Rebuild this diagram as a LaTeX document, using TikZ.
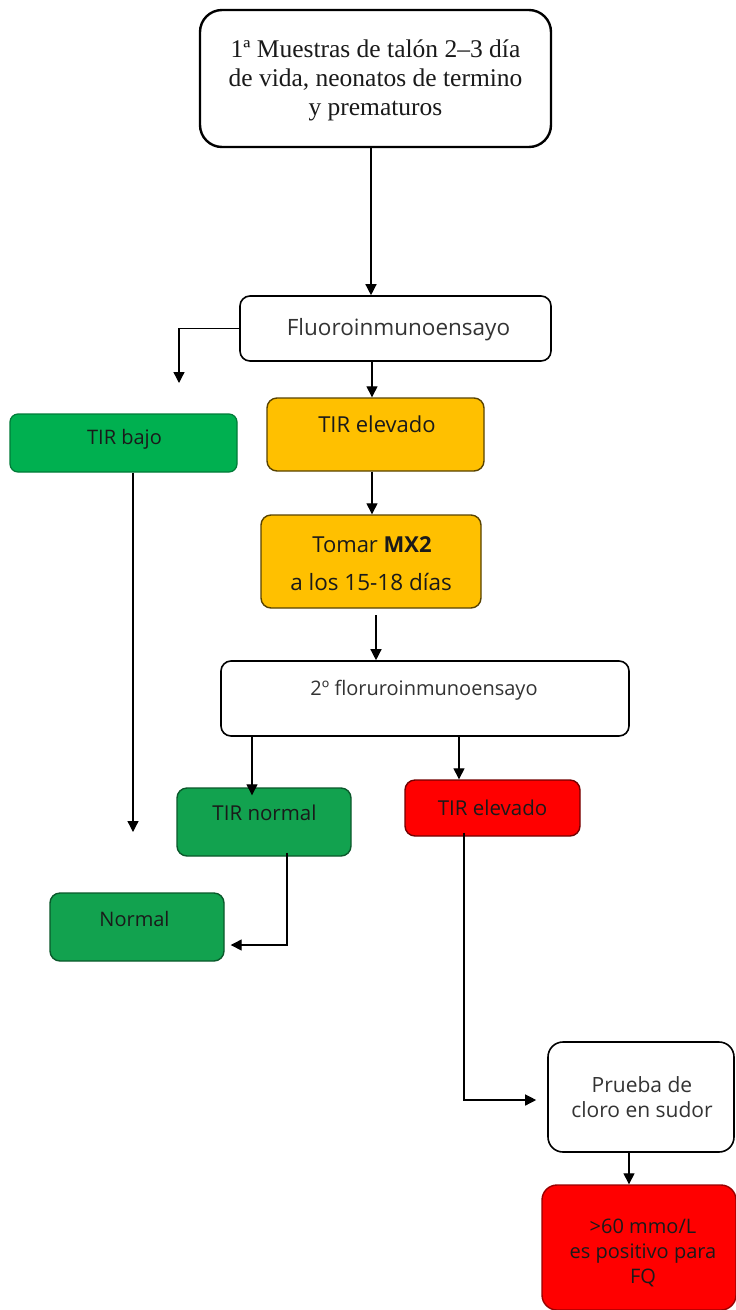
\documentclass[tikz,border=0pt]{standalone}
\usepackage{fontspec}
\setmainfont{Liberation Serif}
\newfontfamily\boxsans{Open Sans}
\usetikzlibrary{arrows.meta}
\definecolor{okgreen}{HTML}{00B050}
\definecolor{okgreendk}{HTML}{12A24F}
\definecolor{warnorange}{HTML}{FFC000}
\definecolor{alertred}{HTML}{FF0000}
\definecolor{inkdark}{HTML}{1A1A1A}
\definecolor{inkgray}{HTML}{333333}
\begin{document}
\begin{tikzpicture}[x=1pt,y=-1pt,
  box/.style={rectangle,rounded corners=10pt,line width=1.6pt,draw=black,inner sep=0pt},
  whitebox/.style={box,fill=white},
  greenbox/.style={box,fill=okgreen,draw=okgreen!70!black,line width=1.2pt},
  greenboxdk/.style={box,fill=okgreendk,draw=okgreendk!55!black,line width=1.4pt},
  orangebox/.style={box,fill=warnorange,draw=warnorange!35!black,line width=1.4pt},
  redbox/.style={box,fill=alertred,draw=alertred!45!black,line width=1.4pt},
  lbl/.style={text=inkdark,align=center,inner sep=0pt},
  sz/.style={font=\boxsans\fontsize{#1}{25}\selectfont},
  conn/.style={line width=1.3pt,-{Triangle[length=11pt,width=11pt]}},
  plain/.style={line width=1.3pt}]
\useasboundingbox (0,0) rectangle (736,1310);
\fill[white] (0,0) rectangle (736,1310);

% boxes and their labels
\node[whitebox,line width=2.4pt,rounded corners=22pt,minimum width=351pt,minimum height=137pt] (start) at (375.5,78.5) {};
\node[font=\fontsize{25.5}{29}\selectfont,align=center,text=inkdark] (starttxt) at (375.5,80)
  {1ª Muestras de talón 2–3 día\\de vida, neonatos de termino\\y prematuros};

\node[whitebox,minimum width=311pt,minimum height=65pt] (fluo) at (395.5,328.5) {};
\node[lbl,sz=22.5,text=inkgray] (fluotxt) at (398.5,330) {Fluoroinmunoensayo};

\node[greenbox,rounded corners=8pt,minimum width=227pt,minimum height=58pt] (bajo) at (123.5,443) {};
\node[lbl,sz=20] (bajotxt) at (124.5,439) {TIR bajo};

\node[orangebox,minimum width=217pt,minimum height=73pt] (elev) at (375.5,434.5) {};
\node[lbl,sz=22] (elevtxt) at (377,424) {TIR elevado};

\node[orangebox,minimum width=220pt,minimum height=93pt] (mx2) at (371,561.5) {};
\node[lbl,sz=22] (mx2a) at (372,545) {Tomar \textbf{MX2}};
\node[lbl,sz=22.5] (mx2b) at (371,582) {a los 15-18 días};

\node[whitebox,minimum width=408pt,minimum height=75pt] (second) at (425,698.5) {};
\node[lbl,sz=20,text=inkgray] (secondtxt) at (424,690) {2º floruroinmunoensayo};

\node[greenboxdk,minimum width=174pt,minimum height=68pt] (tnorm) at (264,822) {};
\node[lbl,sz=20.5] (tnormtxt) at (264.5,813) {TIR normal};

\node[redbox,minimum width=175pt,minimum height=56pt] (tred) at (492.5,808) {};
\node[lbl,sz=20.5] (tredtxt) at (492.5,808) {TIR elevado};

\node[greenboxdk,minimum width=174pt,minimum height=68pt] (norm) at (137,927) {};
\node[lbl,sz=20] (normtxt) at (134.5,919) {Normal};

\node[whitebox,rounded corners=15pt,minimum width=186pt,minimum height=110pt] (sweat) at (641,1097) {};
\node[lbl,sz=21,text=inkgray] (sweattxt) at (642,1097) {Prueba de\\cloro en sudor};

\node[redbox,draw=alertred!60!black,rounded corners=15pt,minimum width=194pt,minimum height=125pt] (fq) at (639,1247.5) {};
\node[lbl,sz=20] (fqtxt) at (643,1253) {>60 mmo/L\\es positivo para\\FQ};

% free ends of connectors
\coordinate (bajoarrow) at (179,383);
\coordinate (bajoend) at (133,832);
\coordinate (mx2out) at (376,615);

% connectors
\draw[conn] (start.south -| 371,0) -- (fluo.north -| 371,0);
\draw[conn] (fluo.west) -| (bajoarrow);
\draw[conn] (fluo.south -| 372,0) -- (elev.north -| 372,0);
\draw[conn] (elev.south -| 372,0) -- (mx2.north -| 372,0);
\draw[conn] (bajo.south -| 133,0) -- (bajoend);
\draw[conn] (mx2out) -- (second.north -| 376,0);
\draw[conn] (second.south -| 252,0) -- ([yshift=-8pt]tnorm.north -| 252,0);
\draw[conn] (second.south -| 459,0) -- (tred.north -| 459,0);
\draw[conn] ([yshift=4pt]tnorm.south -| 287,0) |- ([xshift=6pt]norm.east |- 0,945);
\draw[conn] ([yshift=4pt]tred.south -| 464,0) |- ([xshift=-11pt]sweat.west |- 0,1100);
\draw[conn] (sweat.south -| 629,0) -- (fq.north -| 629,0);
\end{tikzpicture}
\end{document}
